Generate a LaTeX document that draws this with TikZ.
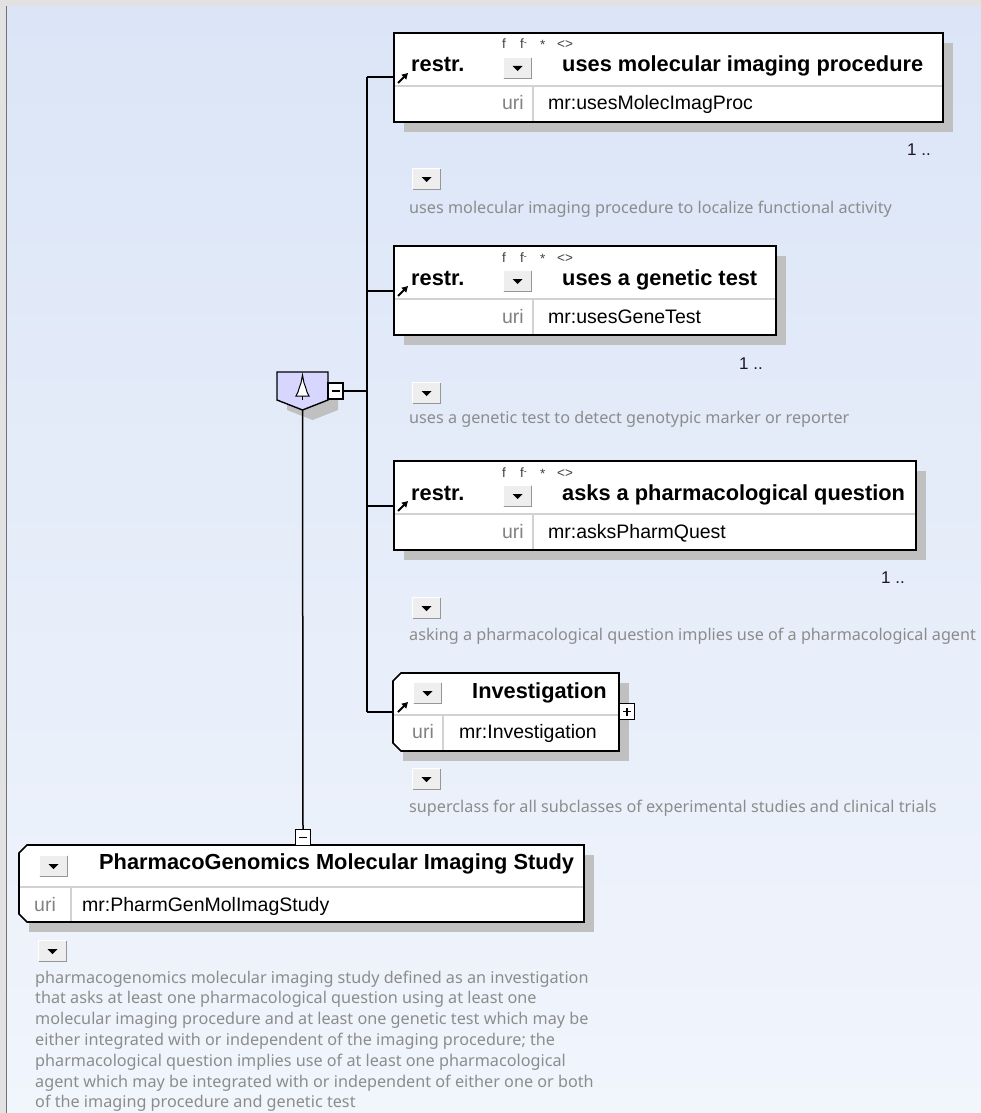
\documentclass[tikz,border=0pt]{standalone}
\usepackage{fontspec}
\setmainfont{Liberation Sans}
\newfontfamily\descfont{Noto Sans}
\usetikzlibrary{arrows.meta}
\definecolor{bgtop}{RGB}{219,229,247}
\definecolor{bgbot}{RGB}{241,245,252}
\definecolor{shadowc}{RGB}{192,192,192}
\definecolor{sepc}{RGB}{210,210,210}
\definecolor{desccol}{RGB}{140,140,140}
\definecolor{uricol}{RGB}{130,130,130}
\definecolor{choicec}{RGB}{214,214,255}
\definecolor{btnfill}{RGB}{238,238,238}
\definecolor{btndark}{RGB}{150,150,150}
\definecolor{framec}{RGB}{226,226,226}
\definecolor{multc}{RGB}{30,20,40}

\newcommand{\ddbutton}[2]{%
  \fill[btnfill] ({#1},{#2}) rectangle ({#1+29},{#2+22});
  \draw[white, line width=1.2pt] ({#1+0.6},{#2+21.4}) -- ({#1+0.6},{#2+0.6}) -- ({#1+28.4},{#2+0.6});
  \draw[btndark, line width=1.2pt] ({#1+0.6},{#2+21.4}) -- ({#1+28.4},{#2+21.4}) -- ({#1+28.4},{#2+0.6});
  \fill[black] ({#1+9.5},{#2+9}) -- ({#1+19.5},{#2+9}) -- ({#1+14.5},{#2+14}) -- cycle;
}

\newcommand{\restrbox}[6]{%
  \fill[shadowc] ({#2+10},{#3+10}) rectangle ({#4+10},{#3+99});
  \node[boxframe, minimum width={#4-#2}, minimum height=89] (#1) at (#2,#3) {};
  \draw[sepline] ({#2+1},{#3+53}) -- ({#4-1},{#3+53});
  \draw[sepline] (533,{#3+53}) -- (533,{#3+88});
  \node[titlefont, anchor=base west] at ({#2+17},{#3+39}) {restr.};
  \node[symfont, anchor=base west] at ({#2+108},{#3+16}) {f};
  \node[symfont, anchor=base west] at ({#2+126},{#3+16}) {f\raisebox{3pt}{\fontsize{9}{9}\selectfont -}};
  \node[symfont, anchor=base west] at ({#2+146},{#3+17}) {*};
  \node[symfont, anchor=base west] at ({#2+163},{#3+16}) {<>};
  \ddbutton{#2+109}{#3+24}
  \node[titlefont, anchor=base west] at (562,{#3+39}) {#5};
  \node[urifont, anchor=base east] at (524,{#3+77}) {uri};
  \node[plainfont, anchor=base west] at (548,{#3+77}) {#6};
  \draw[restrarrow] ({#2+4},{#3+50}) -- ({#2+14},{#3+40});
}

\begin{document}
\begin{tikzpicture}[x=1pt,y=-1pt,
  boxframe/.style={draw=black, line width=1.6pt, fill=white, rectangle, inner sep=0pt, outer sep=0pt, anchor=north west},
  sepline/.style={draw=sepc, line width=1.3pt},
  titlefont/.style={font=\fontsize{21.8}{24}\selectfont\bfseries, inner sep=0pt, text=black},
  plainfont/.style={font=\fontsize{19.5}{22}\selectfont, inner sep=0pt, text=black},
  urifont/.style={font=\fontsize{19.5}{22}\selectfont, inner sep=0pt, text=uricol},
  symfont/.style={font=\fontsize{13.5}{15}\selectfont, inner sep=0pt, text=black!75},
  multfont/.style={font=\fontsize{17}{19}\selectfont, inner sep=0pt, text=multc},
  descstyle/.style={font=\descfont\fontsize{16.2}{20.8}\selectfont, inner sep=0pt, text=desccol, anchor=base west},
  restrarrow/.style={-{Triangle[length=6pt,width=6.5pt]}, line width=1.8pt},
  conn/.style={draw=black, line width=1.5pt},
  pmbox/.style={draw=black, fill=white, line width=1.2pt, rectangle, minimum width=15pt, minimum height=16pt, inner sep=0pt}
]
\useasboundingbox (0,0) rectangle (981,1113);
% background
\shade[top color=bgtop, bottom color=bgbot] (0,0) rectangle (981,1113);
\fill[framec] (0,0) rectangle (981,6);
\fill[framec] (0,0) rectangle (6,1113);
\draw[black!55, line width=1.3pt] (6.5,6) -- (6.5,1113);

% restriction boxes
\restrbox{b1}{394}{33}{943}{uses molecular imaging procedure}{mr:usesMolecImagProc}
\restrbox{b2}{394}{246}{776}{uses a genetic test}{mr:usesGeneTest}
\restrbox{b3}{394}{461}{916}{asks a pharmacological question}{mr:asksPharmQuest}

% multiplicities
\node[multfont, anchor=base east] (m1) at (931,155) {1 ..};
\node[multfont, anchor=base east] (m2) at (763,369) {1 ..};
\node[multfont, anchor=base east] (m3) at (905,583) {1 ..};

% descriptions of restrictions
\ddbutton{412}{168}
\node[descstyle] (d1) at (409,213) {uses molecular imaging procedure to localize functional activity};
\ddbutton{412}{382}
\node[descstyle] (d2) at (409,423) {uses a genetic test to detect genotypic marker or reporter};
\ddbutton{412}{597}
\node[descstyle] (d3) at (409,640) {asking a pharmacological question implies use of a pharmacological agent};

% Investigation box
\fill[shadowc] (403,683) rectangle (629,761);
\node[rectangle, inner sep=0pt, minimum width=226, minimum height=78, anchor=north west] (inv) at (393,673) {};
\draw[fill=white, line width=1.6pt] (401,673) -- (619,673) -- (619,751) -- (401,751) -- (393,743) -- (393,681) -- cycle;
\draw[sepline] (394,715) -- (618,715);
\draw[sepline] (443,715) -- (443,750);
\ddbutton{413}{682}
\node[titlefont, anchor=base west] at (472,698) {Investigation};
\node[urifont, anchor=base] at (423,738) {uri};
\node[plainfont, anchor=base west] at (459,738) {mr:Investigation};
\draw[restrarrow] (398,712) -- (408,702);
\node[pmbox] (invplus) at (627,711.5) {};
\draw[line width=1.2pt] ([xshift=-4pt]invplus.center) -- ([xshift=4pt]invplus.center);
\draw[line width=1.2pt] ([yshift=-4pt]invplus.center) -- ([yshift=4pt]invplus.center);
\ddbutton{412}{768}
\node[descstyle] (d4) at (409,812) {superclass for all subclasses of experimental studies and clinical trials};

% choice compositor
\fill[shadowc] (287,382) -- (338,382) -- (338,410) -- (312.5,420) -- (287,410) -- cycle;
\node[rectangle, inner sep=0pt, minimum width=51, minimum height=38] (choice) at (302.5,391) {};
\draw[fill=choicec, line width=1.4pt] (277,372) -- (328,372) -- (328,400) -- (302.5,410) -- (277,400) -- cycle;
\draw[fill=white, line width=1pt] (302.5,375) -- (304,383) -- (305.5,387) -- (307,392) -- (309,396) -- (296,396) -- (298,392) -- (299.5,387) -- (301,383) -- cycle;
\draw[line width=1.2pt] (302.5,396) -- (302.5,400);
\node[pmbox] (chminus) at (335.5,391) {};
\draw[line width=1.2pt] ([xshift=-4pt]chminus.center) -- ([xshift=4pt]chminus.center);

% spine coordinates
\coordinate (s1) at (367,77);
\coordinate (s2) at (367,291);
\coordinate (s3) at (367,506);
\coordinate (s4) at (367,712);
\coordinate (sc) at (367,391);

% connectors
\draw[conn] (s1) -- (s4);
\draw[conn] (s1) -- (s1 -| b1.west);
\draw[conn] (s2) -- (s2 -| b2.west);
\draw[conn] (s3) -- (s3 -| b3.west);
\draw[conn] (s4) -- (s4 -| inv.west);
\draw[conn] (chminus.east) -- (sc);

% bottom class box
\fill[shadowc] (29,855) rectangle (594,932);
\node[rectangle, inner sep=0pt, minimum width=565, minimum height=77, anchor=north west] (pgm) at (19,845) {};
\draw[fill=white, line width=1.6pt] (27,845) -- (584,845) -- (584,922) -- (27,922) -- (19,914) -- (19,853) -- cycle;
\draw[sepline] (20,887) -- (583,887);
\draw[sepline] (71,887) -- (71,921);
\ddbutton{39}{855}
\node[titlefont, anchor=base west] at (99,869) {PharmacoGenomics Molecular Imaging Study};
\node[urifont, anchor=base] at (45,911) {uri};
\node[plainfont, anchor=base west] at (82,911) {mr:PharmGenMolImagStudy};
\node[pmbox] (pgmminus) at (303,837.5) {};
\draw[line width=1.2pt] ([xshift=-4pt]pgmminus.center) -- ([xshift=4pt]pgmminus.center);
\draw[conn] (choice.south) -- (pgmminus.north);

% bottom description
\ddbutton{38}{940}
\foreach \t [count=\i from 0] in {%
  {pharmacogenomics molecular imaging study defined as an investigation},
  {that asks at least one pharmacological question using at least one},
  {molecular imaging procedure and at least one genetic test which may be},
  {either integrated with or independent of the imaging procedure; the},
  {pharmacological question implies use of at least one pharmacological},
  {agent which may be integrated with or independent of either one or both},
  {of the imaging procedure and genetic test}}
  \node[descstyle] (bd\i) at (35,{983+20.8*\i}) {\t};
\end{tikzpicture}
\end{document}
